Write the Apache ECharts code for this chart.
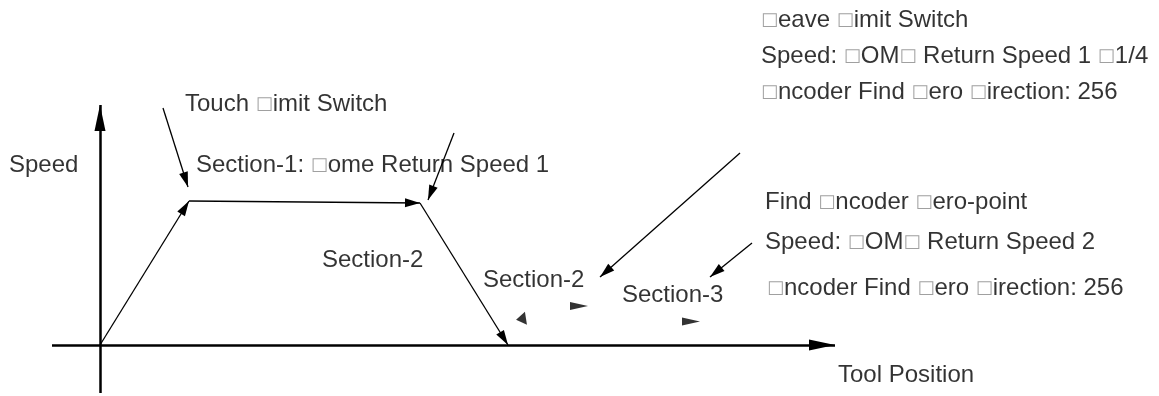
<!DOCTYPE html>
<html>
<head>
<meta charset="utf-8">
<script src="https://cdn.jsdelivr.net/npm/echarts@6/dist/echarts.min.js"></script>
<style>
  html, body { margin: 0; padding: 0; background: #fff; }
  #chart { width: 1159px; height: 396px; }
</style>
</head>
<body>
<div id="chart"></div>
<script>
// speed profile (tool position, speed)
var pathX = [0, 89, 320, 408];
var pathY = [0, 144, 142, 0];

// axis extents
var axisXRange = [-48, 735];
var axisYRange = [-48, 240];

// pointer arrows: from -> to
var calloutFrom = [[63, 237], [354, 212], [640, 192], [652, 102]];
var calloutTo = [[88, 158], [328, 145], [500, 68], [610, 68]];

// loose arrow heads
var headPos = [[421, 26], [479, 39], [591, 23.5]];
var headAngle = [99, -90, -90];

// texts
var labelTexts = [
  'Speed',
  'Touch \u25a1imit Switch',
  'Section-1: \u25a1ome Return Speed 1',
  'Section-2',
  'Section-2',
  'Section-3',
  '\u25a1eave \u25a1imit Switch',
  'Speed: \u25a1OM\u25a1 Return Speed 1 \u25a11/4',
  '\u25a1ncoder Find \u25a1ero \u25a1irection: 256',
  'Find \u25a1ncoder \u25a1ero-point',
  'Speed: \u25a1OM\u25a1 Return Speed 2',
  '\u25a1ncoder Find \u25a1ero \u25a1irection: 256',
  'Tool Position'
];
var labelX = [-91, 85, 96, 222, 383, 522, 661, 661, 661, 665, 665, 667, 738];
var labelY = [180, 241, 180, 85, 65, 50, 325, 289, 253, 143, 103, 57, -30];

var chart = echarts.init(document.getElementById('chart'));

var pathLines = [];
for (var i = 0; i < pathX.length - 1; i++) {
  pathLines.push([{ coord: [pathX[i], pathY[i]] }, { coord: [pathX[i + 1], pathY[i + 1]] }]);
}
var calloutLines = calloutFrom.map(function (f, i) {
  return [{ coord: f }, { coord: calloutTo[i] }];
});

chart.setOption({
  animation: false,
  grid: { left: 0, right: 0, top: 0, bottom: 0 },
  xAxis: { type: 'value', min: -100, max: 1059, show: false },
  yAxis: { type: 'value', min: -51, max: 345, show: false },
  series: [
    {
      // axes
      type: 'line',
      data: [],
      silent: true,
      markLine: {
        silent: true,
        symbol: ['none', 'triangle'],
        symbolSize: [11, 26],
        symbolOffset: [0, [0, '50%']],
        label: { show: false },
        lineStyle: { color: '#000', width: 2.5, type: 'solid' },
        data: [
          [{ coord: [axisXRange[0], 0] }, { coord: [axisXRange[1], 0] }],
          [{ coord: [0, axisYRange[0]] }, { coord: [0, axisYRange[1]] }]
        ]
      }
    },
    {
      // profile + pointers
      type: 'line',
      data: [],
      silent: true,
      markLine: {
        silent: true,
        symbol: ['none', 'triangle'],
        symbolSize: [9, 15],
        symbolOffset: [0, [0, '50%']],
        label: { show: false },
        lineStyle: { color: '#000', width: 1.3, type: 'solid' },
        data: pathLines.concat(calloutLines)
      }
    },
    {
      type: 'scatter',
      silent: true,
      symbol: 'triangle',
      itemStyle: { color: '#000' },
      data: headPos.map(function (p, i) {
        return {
          value: p,
          symbolRotate: headAngle[i],
          symbolSize: i === 0 ? [13, 10] : [8, 18]
        };
      })
    },
    {
      type: 'scatter',
      silent: true,
      symbolSize: 0,
      data: labelX.map(function (x, i) { return [x, labelY[i]]; }),
      label: {
        show: true,
        position: 'inside',
        align: 'left',
        verticalAlign: 'middle',
        color: '#000',
        fontSize: 24,
        fontFamily: 'Liberation Sans',
        formatter: function (p) {
          return labelTexts[p.dataIndex].replace(/\u25a1/g, '{b|\u25a1}');
        },
        rich: {
          b: { fontSize: 18, color: '#888', fontFamily: 'DejaVu Sans' }
        }
      }
    }
  ]
});
</script>
</body>
</html>
